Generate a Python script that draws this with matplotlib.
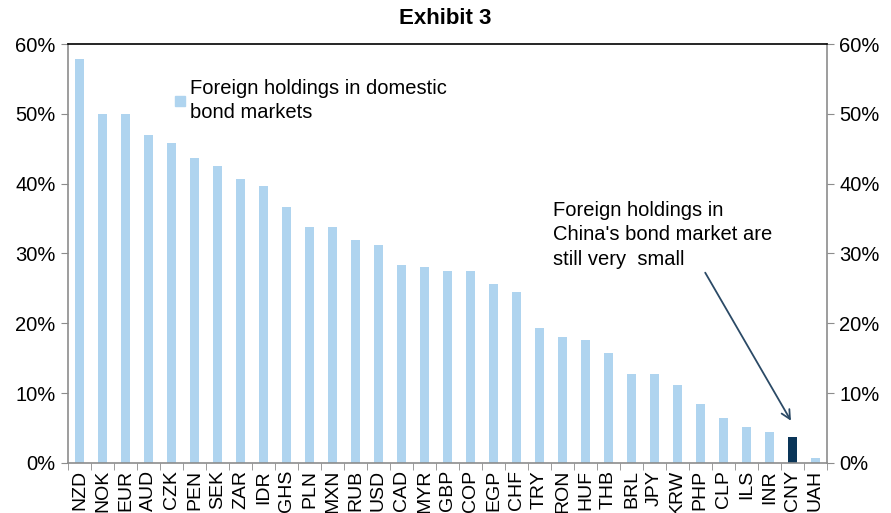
import matplotlib.pyplot as plt
import numpy as np

plt.rcParams['font.family'] = ['Liberation Sans', 'DejaVu Sans']

############################################
# Data
currencies = ['NZD', 'NOK', 'EUR', 'AUD', 'CZK', 'PEN', 'SEK', 'ZAR', 'IDR', 'GHS',
              'PLN', 'MXN', 'RUB', 'USD', 'CAD', 'MYR', 'GBP', 'COP', 'EGP', 'CHF',
              'TRY', 'RON', 'HUF', 'THB', 'BRL', 'JPY', 'KRW', 'PHP', 'CLP', 'ILS',
              'INR', 'CNY', 'UAH']
foreign_share = [57.8, 50.0, 50.0, 46.9, 45.8, 43.7, 42.6, 40.7, 39.6, 36.6,
                 33.8, 33.8, 32.0, 31.2, 28.4, 28.0, 27.5, 27.5, 25.7, 24.5,
                 19.4, 18.0, 17.6, 15.7, 12.7, 12.7, 11.1, 8.4, 6.5, 5.1,
                 4.4, 3.7, 0.7]
highlight = 'CNY'
yticks = [0, 10, 20, 30, 40, 50, 60]

light_blue = '#afd4ef'
dark_blue = '#0a3558'
axis_grey = '#8c8c8c'
fsize = 14.5
############################################

fig = plt.figure(figsize=(8.91, 5.13), dpi=100)
ax = fig.add_axes([0.0763, 0.0975, 0.8517, 0.8167])

x = np.arange(len(currencies))
colors = [dark_blue if c == highlight else light_blue for c in currencies]
ax.bar(x, foreign_share, width=0.4, color=colors, zorder=2)

ax.set_xlim(-0.5, len(currencies) - 0.5)
ax.set_ylim(0, 60)

# y axis on both sides
ax.set_yticks(yticks)
ax.set_yticklabels(['%d%%' % t for t in yticks])
ax.tick_params(axis='y', which='both', left=True, right=True, labelleft=True,
               labelright=True, direction='out', length=5, color=axis_grey,
               labelsize=fsize, pad=4)

# category ticks between bars, labels centred under bars
ax.set_xticks(x)
ax.set_xticklabels(currencies, rotation=90, fontsize=14)
ax.tick_params(axis='x', which='major', length=0, pad=5)
ax.set_xticks(np.arange(len(currencies) + 1) - 0.5, minor=True)
ax.tick_params(axis='x', which='minor', length=5, color=axis_grey, direction='out')

for s in ['left', 'right', 'bottom']:
  ax.spines[s].set_color(axis_grey)
  ax.spines[s].set_linewidth(1.2)
ax.spines['top'].set_color('black')
ax.spines['top'].set_linewidth(1.2)

# legend-like label
ax.plot([], [], marker='s', linestyle='none', markersize=7.5, color=light_blue,
        label='Foreign holdings in domestic\nbond markets')
leg = ax.legend(loc='upper left', bbox_to_anchor=(0.125, 0.935), frameon=False,
                fontsize=fsize, handletextpad=0.05, handlelength=0.9, borderaxespad=0)
for t in leg.get_texts():
  t.set_linespacing(1.3)

# annotation
cny = currencies.index(highlight)
ax.annotate('', xy=(cny, 5.7), xytext=(cny - 3.85, 27.6),
            arrowprops=dict(arrowstyle='->', color='#2b4a66', lw=1.3,
                            mutation_scale=16))
ax.text(cny - 10.4, 37.5, "Foreign holdings in\nChina's bond market are\nstill very  small",
        fontsize=fsize, va='top', ha='left', linespacing=1.35)

fig.text(0.5, 0.963, 'Exhibit 3', fontsize=16, fontweight='bold', ha='center', va='center')

plt.savefig('out.png', dpi=100)
